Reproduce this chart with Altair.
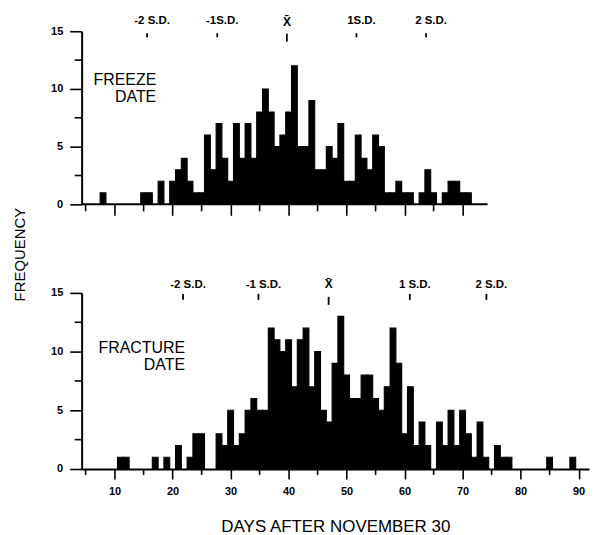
import altair as alt
import pandas as pd

# ---------------- data ----------------
freeze_days = [8, 15, 16, 18,
               20, 21, 22, 23, 24, 25, 26, 27, 28, 29,
               30, 31, 32, 33, 34, 35, 36, 37, 38, 39,
               40, 41, 42, 43, 44, 45, 46, 47, 48, 49,
               50, 51, 52, 53, 54, 55, 56, 57, 58, 59,
               60, 61, 63, 64, 65, 67, 68, 69, 70, 71]
freeze_counts = [1, 1, 1, 2,
                 2, 3, 4, 2, 1, 1, 6, 3, 7, 4,
                 2, 7, 4, 7, 4, 8, 10, 8, 5, 6,
                 8, 12, 5, 5, 9, 3, 3, 5, 4, 7,
                 2, 2, 6, 4, 3, 6, 5, 1, 1, 2,
                 1, 1, 1, 3, 1, 1, 2, 2, 1, 1]

fracture_days = [11, 12, 17, 19, 21, 23, 24, 25,
                 28, 29, 30, 31, 32, 33, 34, 35, 36, 37, 38, 39,
                 40, 41, 42, 43, 44, 45, 46, 47, 48, 49,
                 50, 51, 52, 53, 54, 55, 56, 57, 58, 59,
                 60, 61, 62, 63, 64, 66, 67, 68, 69,
                 70, 71, 72, 73, 74, 76, 77, 78, 85, 89]
fracture_counts = [1, 1, 1, 1, 2, 1, 3, 3,
                   3, 2, 5, 2, 3, 5, 6, 5, 5, 12, 11, 10,
                   11, 7, 11, 12, 7, 10, 5, 4, 9, 13,
                   8, 6, 6, 8, 8, 6, 5, 7, 12, 9,
                   3, 7, 2, 4, 2, 4, 2, 5, 2,
                   5, 3, 1, 4, 1, 2, 1, 1, 1, 1]

freeze_sd_days = [15.6, 27.7, 39.7, 51.7, 63.7]
freeze_sd_labels = ["-2 S.D.", "-1S.D.", "X\u0304", "1S.D.", "2 S.D."]
fracture_sd_days = [21.8, 34.8, 46.9, 60.9, 74.1]
fracture_sd_labels = ["-2 S.D.", "-1 S.D.", "X\u0304", "1 S.D.", "2 S.D."]

freeze_title = ["FREEZE", "DATE"]
fracture_title = ["FRACTURE", "DATE"]

y_major = [0, 5, 10, 15]
y_minor = [2.5, 7.5, 12.5]
x_major_top = [10, 20, 30, 40, 50, 60, 70]
x_minor_top = [5, 15, 25, 35, 45, 55, 65]
x_major_bottom = [10, 20, 30, 40, 50, 60, 70, 80, 90]
x_minor_bottom = [5, 15, 25, 35, 45, 55, 65, 75, 85]

X_DOMAIN = [4.31, 91.8]
TOP_AXIS_END = 74.3

W = 510
H_TOP = 174
H_BOT = 177

xscale = alt.Scale(domain=X_DOMAIN, nice=False, zero=False)
yscale = alt.Scale(domain=[0, 15], nice=False, zero=True)

FONT = "Liberation Sans"


def make_panel(days, counts, sd_days, sd_labels, title_lines, height, top,
               title_right, title_y0, title_fs, lab_y, tick_y, mean_tick_y, mean_y):
    df = pd.DataFrame({"day": days, "count": counts})

    if top:
        xaxis = alt.Axis(values=x_major_top, labels=False, domain=False, tickSize=11,
                         tickWidth=1.6, tickColor="black", title=None, grid=False)
        yaxis = alt.Axis(values=y_major, tickSize=12, tickWidth=1.6, tickColor="black",
                         domainColor="black", domainWidth=2, labelPadding=7,
                         labelFontSize=11, labelFontWeight="bold", labelColor="black",
                         labelFont=FONT, grid=False,
                         title="FREQUENCY", titleFont=FONT, titleFontSize=15,
                         titleFontWeight="normal", titleColor="black", titleAngle=270,
                         titleAlign="center", titleBaseline="middle",
                         titleX=-62, titleY=224)
        x_minor = x_minor_top
        minor_len = 7
    else:
        xaxis = alt.Axis(values=x_major_bottom, tickSize=10, tickWidth=1.6, tickColor="black",
                         domainColor="black", domainWidth=2, labelPadding=7,
                         labelFontSize=11, labelFontWeight="bold", labelColor="black",
                         labelFont=FONT, grid=False,
                         title="DAYS AFTER NOVEMBER 30", titleFont=FONT, titleFontSize=17,
                         titleFontWeight="normal", titleColor="black",
                         titleBaseline="middle", titleAlign="center",
                         titleX=W / 2, titleY=57.5)
        yaxis = alt.Axis(values=y_major, tickSize=12, tickWidth=1.6, tickColor="black",
                         domainColor="black", domainWidth=2, labelPadding=7,
                         labelFontSize=11, labelFontWeight="bold", labelColor="black",
                         labelFont=FONT, grid=False, title=None)
        x_minor = x_minor_bottom
        minor_len = 6

    bars = alt.Chart(df).transform_calculate(
        x0="datum.day - 0.5", x1="datum.day + 0.5"
    ).mark_rect(color="black", stroke="black", strokeWidth=1.1).encode(
        x=alt.X("x0:Q", scale=xscale, axis=xaxis),
        x2="x1:Q",
        y=alt.Y("count:Q", scale=yscale, axis=yaxis),
        y2=alt.datum(0),
    )

    layers = [bars]

    if top:
        base = alt.Chart(pd.DataFrame({"a": [X_DOMAIN[0]], "b": [TOP_AXIS_END]})).mark_rule(
            color="black", strokeWidth=2
        ).encode(x=alt.X("a:Q", axis=xaxis), x2="b:Q", y=alt.Y(datum=0, axis=yaxis))
        layers.append(base)

    yminor = alt.Chart(pd.DataFrame({"v": y_minor})).mark_rule(
        color="black", strokeWidth=1.6
    ).encode(y=alt.Y("v:Q", axis=yaxis), x=alt.value(-7), x2=alt.value(0))
    layers.append(yminor)

    xminor = alt.Chart(pd.DataFrame({"v": x_minor})).mark_rule(
        color="black", strokeWidth=1.6
    ).encode(x=alt.X("v:Q", axis=xaxis), y=alt.value(height), y2=alt.value(height + minor_len))
    layers.append(xminor)

    sd_df = pd.DataFrame({"day": sd_days, "label": sd_labels})
    sd_base = alt.Chart(sd_df)
    is_mean = "datum.label == 'X\u0304'"
    not_mean = "datum.label != 'X\u0304'"

    sd_ticks = sd_base.transform_filter(not_mean).mark_rule(
        color="black", strokeWidth=1.8
    ).encode(x=alt.X("day:Q", axis=xaxis), y=alt.value(tick_y[0]), y2=alt.value(tick_y[1]))
    mean_tick = sd_base.transform_filter(is_mean).mark_rule(
        color="black", strokeWidth=1.8
    ).encode(x=alt.X("day:Q", axis=xaxis), y=alt.value(mean_tick_y[0]), y2=alt.value(mean_tick_y[1]))
    sd_text = sd_base.transform_filter(not_mean).mark_text(
        font=FONT, fontSize=11.5, fontWeight="bold", color="black",
        align="center", baseline="middle", dx=5
    ).encode(x=alt.X("day:Q", axis=xaxis), y=alt.value(lab_y), text="label:N")
    mean_text = sd_base.transform_filter(is_mean).mark_text(
        font=FONT, fontSize=12, fontWeight="bold", color="black",
        align="center", baseline="middle"
    ).encode(x=alt.X("day:Q", axis=xaxis), y=alt.value(mean_y), text="label:N")
    layers += [sd_ticks, mean_tick, sd_text, mean_text]

    for i, line in enumerate(title_lines):
        t = alt.Chart(pd.DataFrame({"line": [line]})).mark_text(
            font=FONT, fontSize=title_fs, fontWeight="normal", color="black",
            align="right", baseline="middle"
        ).encode(x=alt.value(title_right), y=alt.value(title_y0 + i * 16.5), text="line:N")
        layers.append(t)

    return alt.layer(*layers).properties(width=W, height=height)


top = make_panel(freeze_days, freeze_counts, freeze_sd_days, freeze_sd_labels, freeze_title,
                 H_TOP, True, 75, 49.3, 16, -10.5, (2, 6), (2.5, 10.5), -9.5)
bottom = make_panel(fracture_days, fracture_counts, fracture_sd_days, fracture_sd_labels,
                    fracture_title, H_BOT, False, 104, 55.6, 16, -7.5, (1, 7), (4, 12), -9)

chart = alt.vconcat(top, bottom, spacing=89, bounds="flush").configure(
    font=FONT, background="white"
).configure_view(stroke=None)

chart.save("out.html", embed_options={"renderer": "svg", "actions": False})
